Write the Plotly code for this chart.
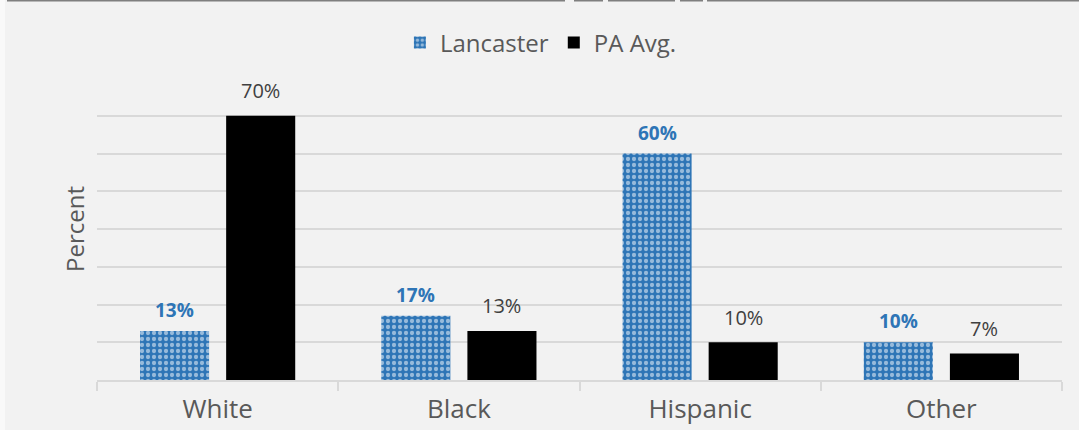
import plotly.graph_objects as go

categories = ["White", "Black", "Hispanic", "Other"]
lancaster = [13, 17, 60, 10]
pa_avg = [70, 13, 10, 7]
lancaster_labels = ["13%", "17%", "60%", "10%"]
pa_labels = ["70%", "13%", "10%", "7%"]

BLUE = "#2e75b6"
BG = "#f2f2f2"
GRID = "#d9d9d9"

fig = go.Figure()
fig.add_trace(go.Bar(
    name="Lancaster", x=categories, y=lancaster,
    marker=dict(color=BLUE, line=dict(width=0),
                pattern=dict(shape=".", fgcolor="white", bgcolor=BLUE,
                             size=6, solidity=0.4, fillmode="overlay")),
))
fig.add_trace(go.Bar(
    name="PA Avg.", x=categories, y=pa_avg,
    marker=dict(color="black", line=dict(width=0)),
))

for c, v, t in zip(categories, lancaster, lancaster_labels):
    fig.add_annotation(x=c, y=v, text="<b>%s</b>" % t, showarrow=False,
                       xshift=-43, yshift=21, yanchor="middle",
                       font=dict(family="Open Sans", size=19, color=BLUE))
for c, v, t in zip(categories, pa_avg, pa_labels):
    fig.add_annotation(x=c, y=v, text=t, showarrow=False,
                       xshift=43, yshift=25, yanchor="middle",
                       font=dict(family="Open Sans", size=20, color="#404040"))

W, H = 1079, 430
L, R, T, B = 97, 17, 78, 50
pw, ph = W - L - R, H - T - B

# frame decoration at top (cropped border)
segs = [(7, 565), (574, 603), (608, 675), (680, 703), (707, 1079)]
for a, b in segs:
    fig.add_shape(type="line", xref="paper", yref="paper",
                  x0=(a - L) / pw, x1=(b - L) / pw,
                  y0=1 + (T - 0.5) / ph, y1=1 + (T - 0.5) / ph,
                  line=dict(color="#7f7f7f", width=2), layer="above")
# light strip at left edge
fig.add_shape(type="rect", xref="paper", yref="paper",
              x0=-L / pw, x1=(5 - L) / pw, y0=-B / ph, y1=1 + T / ph,
              fillcolor="#f9f9f9", line=dict(width=0), layer="below")

fig.update_layout(
    width=W, height=H,
    margin=dict(l=L, r=R, t=T, b=B, autoexpand=False),
    paper_bgcolor=BG, plot_bgcolor=BG,
    barmode="group", bargap=0.286, bargroupgap=0.198,
    font=dict(family="Open Sans", color="#595959"),
    legend=dict(orientation="h", x=0.46, xanchor="center",
                y=1 + (78 - 43) / ph, yanchor="middle",
                font=dict(size=24, color="#595959"), bgcolor="rgba(0,0,0,0)",
                traceorder="normal"),
    showlegend=True,
)
fig.update_xaxes(showgrid=False, showline=True, linecolor=GRID, linewidth=2,
                 ticks="outside", tickson="boundaries", ticklen=9, tickcolor=GRID,
                 tickwidth=2, tickfont=dict(size=26, color="#595959"),
                 ticklabelstandoff=5, automargin=False)
fig.update_yaxes(range=[0, 80], dtick=10, showgrid=True, gridcolor=GRID, gridwidth=2,
                 showticklabels=False, zeroline=False, automargin=False,
                 title=dict(text="Percent", font=dict(size=24, color="#595959"), standoff=4))

fig.write_html("out.html",
               config={"displayModeBar": False},
               post_script="document.body.style.margin='0';document.body.style.padding='0';"
                           "document.body.style.overflow='hidden';document.body.style.background='#f2f2f2';")
